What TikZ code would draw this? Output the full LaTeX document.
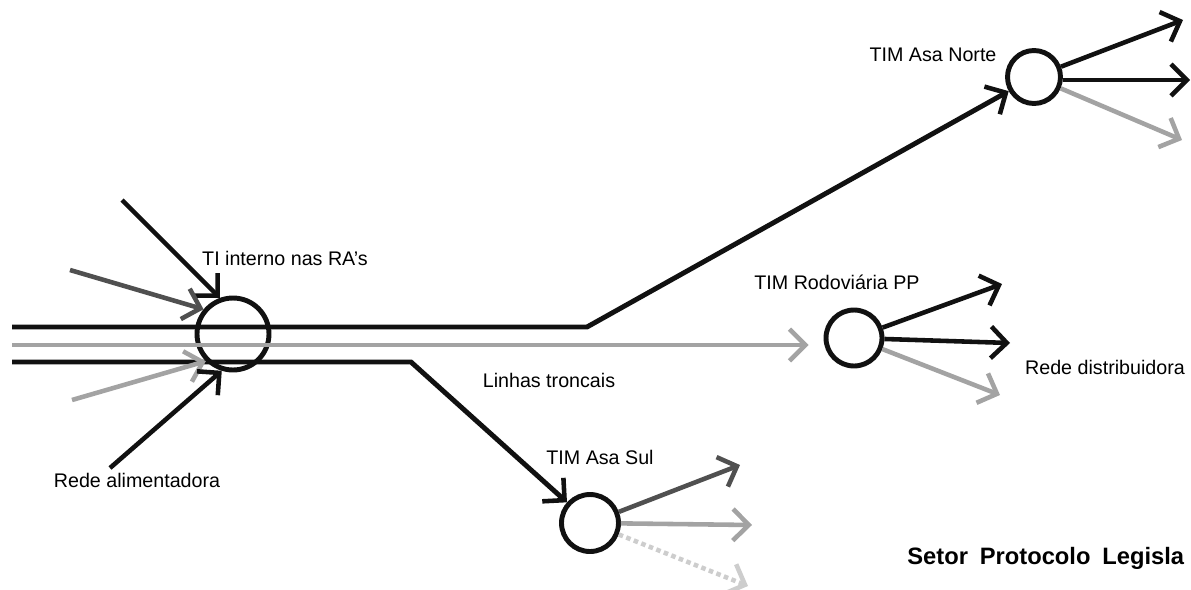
\documentclass[tikz,border=0pt]{standalone}
\usepackage{fontspec}
\setmainfont{Liberation Sans}
\usetikzlibrary{arrows.meta}
\definecolor{NetInk}{HTML}{111111}
\definecolor{NetDark}{HTML}{505050}
\definecolor{NetGrey}{HTML}{A3A3A3}
\definecolor{NetPale}{HTML}{CDCDCD}

\begin{document}
\begin{tikzpicture}[x=0.02cm,y=-0.02cm,
  hub/.style={circle,draw=NetInk,line width=2.8pt,inner sep=0pt,minimum size=#1},
  barb/.style={-{Straight Barb[length=9pt,width=18pt,line width=2.6pt]}},
  trunk/.style={draw=#1,line width=2.8pt},
  feed/.style={draw=#1,line width=2.6pt,barb},
  lbl/.style={font=\fontsize{11.2}{13}\selectfont,inner sep=0pt}]
\path[use as bounding box] (0,0) rectangle (1191,589);
% hubs
\node[hub=1.44cm] (ti) at (233,334) {};
\node[hub=1.06cm] (norte) at (1034,77) {};
\node[hub=1.12cm] (rodo) at (854,338) {};
\node[hub=1.14cm] (sul) at (590,523) {};
% trunk lines
\coordinate (trA) at (12,327);
\coordinate (bendA) at (587,327);
\coordinate (trB) at (12,345);
\coordinate (trC) at (12,362);
\coordinate (bendC) at (411,362);
\draw[trunk=NetInk,barb] (trA) -- (bendA) -- (norte);
\draw[feed=NetGrey,shorten >=0.3cm] (trB) -- (trB -| rodo.west);
\draw[trunk=NetInk,barb] (trC) -- (bendC) -- (sul);
% feeders into TI
\coordinate (inA) at (122,200);
\coordinate (inB) at (70,270);
\coordinate (inC) at (72,400);
\coordinate (inD) at (110,468);
\draw[feed=NetInk] (inA) -- (ti.110);
\draw[feed=NetDark] (inB) -- (ti.140);
\draw[feed=NetGrey] (inC) -- (ti.225);
\draw[feed=NetInk] (inD) -- (ti.253);
% distribution
\coordinate (noA) at (1183,20);
\coordinate (noB) at (1190,80);
\coordinate (noC) at (1182,140);
\draw[feed=NetInk] (norte) -- (noA);
\draw[feed=NetInk] (norte.east |- noB) -- (noB);
\draw[feed=NetGrey] (norte) -- (noC);
\coordinate (roA) at (1002,284);
\coordinate (roB) at (1010,343);
\coordinate (roC) at (1000,395);
\draw[feed=NetInk] (rodo) -- (roA);
\draw[feed=NetInk] (rodo) -- (roB);
\draw[feed=NetGrey] (rodo) -- (roC);
\coordinate (suA) at (740,465);
\coordinate (suB) at (752,525);
\coordinate (suC) at (748,586);
\draw[feed=NetDark] (sul) -- (suA);
\draw[feed=NetGrey] (sul) -- (suB);
\draw[feed=NetPale,dotted] (sul) -- (suC);
% labels
\node[lbl] (tiLbl) at (285,258) {TI interno nas RA's};
\node[lbl] (norteLbl) at (933,55) {TIM Asa Norte};
\node[lbl] (rodoLbl) at (837,282) {TIM Rodoviária PP};
\node[lbl] (distLbl) at (1105,367) {Rede distribuidora};
\node[lbl] (trLbl) at (549,380) {Linhas troncais};
\node[lbl] (sulLbl) at (600,457) {TIM Asa Sul};
\node[lbl] (alimLbl) at (137,480) {Rede alimentadora};
\node[anchor=west,inner sep=0pt,font=\fontsize{13.5}{15}\selectfont\bfseries] (stamp) at (907,558) {Setor\hspace{3pt} Protocolo\hspace{3pt} Legisla};
\end{tikzpicture}
\end{document}
